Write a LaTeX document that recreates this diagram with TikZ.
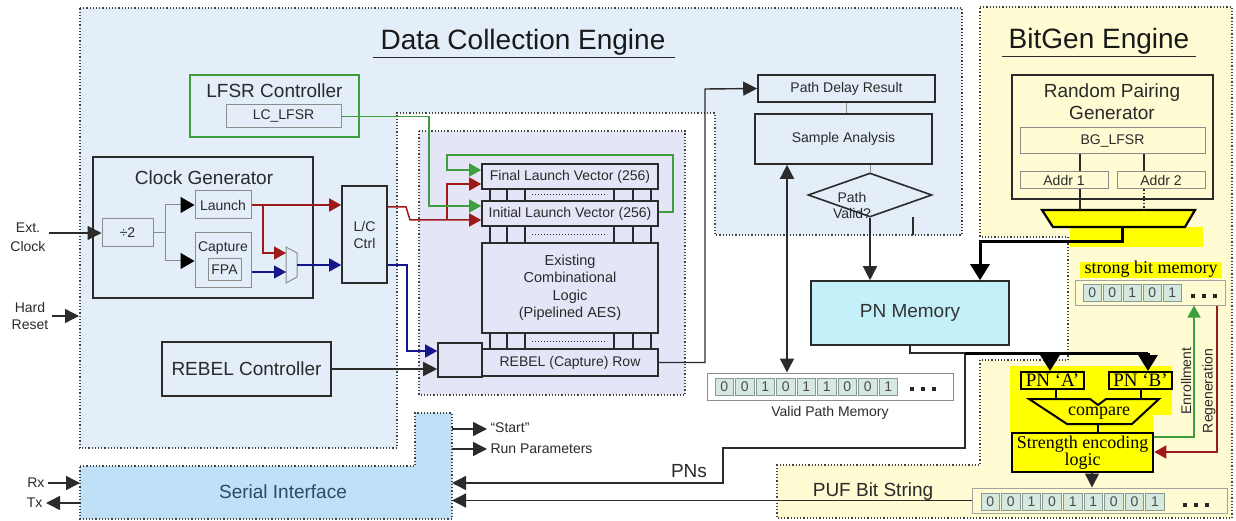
\documentclass[tikz,border=0pt]{standalone}
\usepackage{fontspec}
\setmainfont{Liberation Sans}
\newfontfamily\tnr{Liberation Serif}
\usetikzlibrary{arrows.meta,shapes.geometric,calc}

\definecolor{dcefill}{HTML}{E3EEF9}
\definecolor{lavfill}{HTML}{E5E5F8}
\definecolor{serfill}{HTML}{BFE0F6}
\definecolor{bgfill}{HTML}{FFFBD2}
\definecolor{pnfill}{HTML}{C4F0F9}
\definecolor{cellfill}{HTML}{D6E9E1}
\definecolor{cellline}{HTML}{8A9A92}
\definecolor{boxline}{HTML}{2B2B2B}
\definecolor{lightline}{HTML}{8C8C8C}
\definecolor{lgreen}{HTML}{3E9E3E}
\definecolor{dred}{HTML}{9E1A1A}
\definecolor{dblue}{HTML}{16168C}
\definecolor{yel}{HTML}{FFFF00}
\definecolor{txt}{HTML}{2A2A2A}
\definecolor{sitext}{HTML}{2C4A66}

\newcommand{\fz}[2]{\fontsize{#1}{#2}\selectfont}
% row of bit cells: name prefix, left x, centre y, pitch, bits
\newcommand{\bits}[5]{%
  \foreach \b [count=\i] in {#5} {\node[cell] (#1\i) at ({#2+9.25+(\i-1)*#4},#3) {\b};}}
% three square dots
\newcommand{\dotsrow}[3]{%
  \foreach \k in {0,1,2} {\fill[black!85] ({#1+\k*#3-2.2},{#2-2.2}) rectangle ({#1+\k*#3+2.2},{#2+2.2});}}
% bus cells between two register rows
\newcommand{\busrow}[2]{%
  \foreach \xx in {490,507,525,614,633,651} {\draw[boxline, line width=1.4pt] (\xx,#1) -- (\xx,#2);}
  \draw[boxline, dotted, line width=1pt] (532,{(#1+#2)/2}) -- (607,{(#1+#2)/2});}

\begin{document}
\begin{tikzpicture}[x=1pt,y=-1pt, font=\fz{14}{17}, text=txt,
  sz/.style 2 args={minimum width=#1pt, minimum height=#2pt},
  region/.style={draw=black!75, dotted, line width=1.2pt},
  box/.style={draw=boxline, line width=1.6pt, inner sep=0pt, align=center},
  sbox/.style={draw=lightline, line width=1pt, inner sep=0pt, align=center},
  ybox/.style={draw=black, line width=2pt, fill=yel, inner sep=0pt, align=center, font=\tnr\fz{19}{19}, text=black},
  cell/.style={draw=cellline, fill=cellfill, line width=0.8pt, minimum width=18.5pt, minimum height=17pt, inner sep=0pt, text=black!70},
  conn/.style={draw=boxline, line width=1.4pt},
  arr/.style={conn, -{Triangle[length=14pt,width=14pt]}},
  thl/.style={draw=black, line width=3pt},
  tarr/.style={thl, -{Triangle[length=16pt,width=19pt]}},
  gline/.style={draw=lightline, line width=1pt},
  garr/.style={draw=lgreen, line width=1.5pt, -{Triangle[length=12pt,width=13pt]}},
  rarr/.style={draw=dred, line width=1.5pt, -{Triangle[length=12pt,width=13pt]}},
  barr/.style={draw=dblue, line width=1.5pt, -{Triangle[length=12pt,width=13pt]}},
  karr/.style={gline, -{Triangle[length=14pt,width=16pt,color=black]}},
  ttl/.style={font=\fz{28}{28}, text=black!90}
]
\useasboundingbox (0,0) rectangle (1236,521);

% ---------- engine regions ----------
\path[region, fill=dcefill] (80,8) -- (962,8) -- (962,235) -- (715,235) -- (715,113)
  -- (397,113) -- (397,448) -- (80,448) -- cycle;
\path[region, fill=lavfill] (419,131) rectangle (685,395);
\path[region, fill=serfill] (80,466) -- (415,466) -- (415,413) -- (452,413) -- (452,519)
  -- (80,519) -- cycle;
\path[region, fill=bgfill] (980,7) -- (1232,7) -- (1232,518) -- (777,518) -- (777,465)
  -- (980,465) -- (980,360) -- (1068,360) -- (1068,237) -- (980,237) -- cycle;

% ---------- titles ----------
\node[ttl] (dceT) at (523,42) {Data Collection Engine};
\draw[boxline, line width=1pt] (373,58) -- (675,58);
\node[ttl] (bgT) at (1099,41) {BitGen Engine};
\draw[boxline, line width=1pt] (1002,57) -- (1196,57);

% ---------- LFSR controller ----------
\node[box, draw=lgreen, sz={169}{62}] (lfsr) at (274.5,106) {};
\node[font=\fz{19}{19}] (lfsrT) at (274.5,91) {LFSR Controller};
\node[sbox, sz={115}{23}] (lclfsr) at (283.5,116.5) {LC\_LFSR};

% ---------- clock generator ----------
\node[box, sz={220}{141}] (clk) at (203,227.5) {};
\node[font=\fz{19}{19}] (clkT) at (204,178) {Clock Generator};
\node[sbox, sz={51}{28}] (div) at (127.5,233) {÷2};
\node[sbox, sz={56}{28}] (launch) at (223,205) {Launch};
\node[sbox, sz={56}{54}] (capture) at (223,260) {};
\node (captT) at (223,248) {Capture};
\node[sbox, sz={33}{21}] (fpa) at (224.5,269.5) {FPA};
\draw[gline] (286,247) -- (297,253) -- (297,277) -- (286,283) -- cycle;
\coordinate (muxR) at (286,253);
\coordinate (muxB) at (286,272);
\coordinate (muxO) at (297,265);
\node[box, sz={45}{97}] (lc) at (364.5,234.5) {L/C\\Ctrl};

\draw[gline] (div.east) -- (165,233) coordinate (brc);
\draw[karr] (brc) -- (165,205) -- (launch.west);
\draw[karr] (brc) -- (165,261) -- (capture.west |- 0,261);
\draw[rarr] (launch.east) -- (launch.east -| lc.west);
\draw[rarr] (launch.east -| 263,0) -- (263,253) -- (muxR);
\draw[barr] (capture.east |- muxB) -- (muxB);
\draw[barr] (muxO) -- (muxO -| lc.west);

% ---------- external pins ----------
\node[align=center, font=\fz{14}{19}] (extT) at (28,237) {Ext.\\Clock};
\draw[arr] (extT.east |- div.west) -- (div.west);
\node[align=center, font=\fz{14}{17}] (hrT) at (30,315.5) {Hard\\Reset};
\coordinate (hrE) at (79,316);
\draw[arr] (hrT.east |- hrE) -- (hrE);

% ---------- launch / capture datapath ----------
\node[box, sz={176}{25}] (final) at (570,176.5) {Final Launch Vector (256)};
\node[box, sz={176}{25}] (initial) at (570,213.5) {Initial Launch Vector (256)};
\node[box, sz={176}{90}, font=\fz{14.5}{17.5}] (exist) at (570,288) {Existing\\Combinational\\Logic\\(Pipelined AES)};
\node[box, sz={176}{27}] (rebelrow) at (570,362.5) {REBEL (Capture) Row};
\node[box, sz={44}{34}] (sq) at (460,360) {};
\busrow{189}{201}
\busrow{226}{243}
\busrow{333}{349}

\draw[rarr] (lc.east |- 0,207) -- (406,207) -- (410,220) -- (initial.west |- 0,220);
\draw[rarr] (447,220) -- (447,184) -- (final.west |- 0,184);
\draw[barr] (lc.east |- 0,265) -- (407,265) -- (407,351) -- (sq.west |- 0,351);
\draw[garr] (lclfsr.east) -- (429,116.5) -- (429,206) -- (initial.west |- 0,206);
\draw[garr] (initial.east |- 0,212) -- (673,212) -- (673,155) -- (447,155) -- (447,170) -- (final.west |- 0,170);

\node[box, sz={169}{54}, font=\fz{19}{19}] (rebel) at (246.5,369) {REBEL Controller};
\draw[arr] (rebel.east) -- (rebel.east -| sq.west);

% ---------- path analysis ----------
\node[box, sz={177}{27}] (pdr) at (846.5,88.5) {Path Delay Result};
\node[box, sz={177}{50}] (sa) at (843.5,139) {Sample Analysis};
\node[draw=boxline, line width=1.6pt, diamond, minimum width=124pt, minimum height=44pt, inner sep=0pt] (pv) at (870,195) {};
\node[align=center, font=\fz{14}{16}] (pvT) at (852,205) {Path\\Valid?};
\draw[arr] (rebelrow.east) -- (705,362.5) -- (705,89) -- (pdr.west);
\draw[gline] (pdr.south) -- (pdr.south |- sa.north);
\draw[gline] (sa.south -| pv.north) -- (pv.north);
\draw[conn] (913,217) -- (913,235);

\node[box, fill=pnfill, sz={198}{64}, font=\fz{19}{19}, text=black!80] (pnmem) at (910,313) {PN Memory};
\draw[arr] (pv.south) -- (pv.south |- pnmem.north);

\node[sbox, sz={246}{27}, fill=white] (vpm) at (830,386.5) {};
\bits{vp}{715}{386.5}{20.5}{0,0,1,0,1,1,0,0,1}
\dotsrow{912}{389}{11}
\node (vpmT) at (830,413) {Valid Path Memory};
\draw[conn, {Triangle[length=14pt,width=14pt]}-{Triangle[length=14pt,width=14pt]}] (sa.south -| 787,0) -- (vpm.north -| 787,0);

% ---------- random pairing generator ----------
\node[box, sz={201}{124}] (rpg) at (1112.5,137) {};
\node[align=center, font=\fz{19}{22}] (rpgT) at (1112,102) {Random Pairing\\Generator};
\node[sbox, sz={185}{26}] (bglfsr) at (1112.5,141) {BG\_LFSR};
\node[sbox, sz={88}{17}] (addr1) at (1064,180.5) {Addr 1};
\node[sbox, sz={88}{17}] (addr2) at (1161,180.5) {Addr 2};
\draw[conn] (bglfsr.south -| 1080,0) -- (addr1.north -| 1080,0);
\draw[conn] (bglfsr.south -| 1144,0) -- (addr2.north -| 1144,0);
\fill[yel] (1070,227) rectangle (1203,247);
\draw[black, line width=2.2pt, fill=yel] (1042,210) -- (1195,210) -- (1185,227) -- (1053,227) -- cycle;
\coordinate (sel1) at (1080,210);
\coordinate (sel2) at (1144,210);
\coordinate (selO) at (1122,227);
\draw[conn] (addr1.south -| sel1) -- (sel1);
\draw[conn, dotted] (addr2.south -| sel2) -- (sel2);
\draw[tarr] (selO) -- (1122,242) -- (980,242) -- (pnmem.north -| 980,0);

% ---------- strong bit memory ----------
\fill[yel] (1080,262) rectangle (1222,278);
\node[font=\tnr\fz{18}{18}, text=black] (sbmT) at (1151,269) {strong bit memory};
\node[sbox, sz={150}{25}, draw=lightline!80] (sbm) at (1150,292.5) {};
\bits{sb}{1083}{293}{20}{0,0,1,0,1}
\dotsrow{1193}{296}{11}

% ---------- compare and encode ----------
\fill[yel] (1010,366) rectangle (1172,415);
\fill[yel] (1010,415) rectangle (1153,433);
\node[ybox, sz={63}{17}] (pna) at (1052.5,380.5) {PN ‘A’};
\node[ybox, sz={63}{17}] (pnb) at (1140.5,380.5) {PN ‘B’};
\draw[black, line width=2pt, fill=yel] (1029,399) -- (1090,399) -- (1098,405) -- (1106,399)
  -- (1159,399) -- (1132,424) -- (1067,424) -- cycle;
\node[font=\tnr\fz{18}{18}, text=black] (cmpT) at (1099,413) {compare};
\coordinate (cmpA) at (1056,399);
\coordinate (cmpB) at (1141,399);
\coordinate (cmpO) at (1098,424);
\draw[black, line width=2pt] (pna.south -| cmpA) -- (cmpA);
\draw[black, line width=2pt] (pnb.south -| cmpB) -- (cmpB);
\node[ybox, line width=2.6pt, sz={141}{39}, font=\tnr\fz{18}{17}] (strength) at (1082.5,452.5) {Strength encoding\\logic};
\draw[black, line width=2pt] (cmpO) -- (strength.north -| cmpO);

\draw[arr] (pnmem.south) -- (pnmem.south |- 0,353) -- (965,353) -- (965,448) -- (723,448)
  -- (723,483) -- (452,483) coordinate (siPN);
\draw[thl] (965,353) -- (1148,353);
\draw[tarr] (1050,353) -- (pna.north -| 1050,0);
\draw[tarr] (1148,353) -- (pnb.north -| 1148,0);

\draw[garr] (strength.east |- 0,437) -- (1194,437) -- (sbm.south -| 1194,0);
\draw[rarr] (sbm.south -| 1217,0) -- (1217,452) -- (strength.east |- 0,452);
\node[rotate=90] (enrT) at (1186,381) {Enrollment};
\node[rotate=90] (regT) at (1209,391) {Regeneration};

% ---------- PUF bit string ----------
\node[sbox, sz={255}{25}, draw=lightline!80] (puf) at (1099.5,500.5) {};
\bits{pb}{981}{502}{20.6}{0,0,1,0,1,1,0,0,1}
\dotsrow{1185}{505}{11}
\node[font=\fz{19}{19}] (pufT) at (873,492) {PUF Bit String};
\draw[arr] (strength.south -| 1092,0) -- (puf.north -| 1092,0);
\draw[arr] (puf.west) -- (puf.west -| 452,0) coordinate (siPUF);
\node[font=\fz{19}{19}] (pnsT) at (689,471) {PNs};

% ---------- serial interface ----------
\node[font=\fz{19}{19}, text=sitext] (siT) at (283,492) {Serial Interface};
\node[anchor=west] (startT) at (487,428) {“Start”};
\node[anchor=west] (runT) at (487,449) {Run Parameters};
\draw[arr] (452,429) coordinate (siS) -- (startT.west |- siS);
\draw[arr] (452,449) coordinate (siR) -- (runT.west |- siR);
\node[anchor=east] (rxT) at (48,483) {Rx};
\node[anchor=east] (txT) at (46,503) {Tx};
\coordinate (rxE) at (80,483);
\coordinate (txE) at (80,503);
\draw[arr] (rxT.east) -- (rxE);
\draw[arr] (txE) -- (txT.east);
\end{tikzpicture}
\end{document}
